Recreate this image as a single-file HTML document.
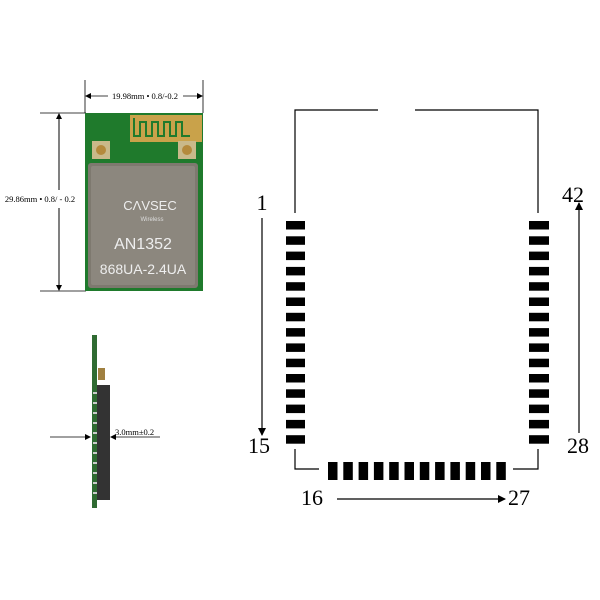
<!DOCTYPE html>
<html><head><style>
html,body{margin:0;padding:0;background:#fff;}
body{width:600px;height:600px;position:relative;overflow:hidden;}
</style></head><body>
<svg width="600" height="600" xmlns="http://www.w3.org/2000/svg" style="position:absolute;left:0;top:0">
<defs>
<marker id="ah" markerWidth="8" markerHeight="8" refX="7" refY="4" orient="auto" markerUnits="userSpaceOnUse">
<path d="M0,0 L8,4 L0,8 z" fill="#000"/></marker>
<marker id="sa" markerWidth="6" markerHeight="6" refX="5" refY="3" orient="auto" markerUnits="userSpaceOnUse">
<path d="M0,0 L6,3 L0,6 z" fill="#000"/></marker>
</defs>
<line x1="85" y1="80" x2="85" y2="113" stroke="#000" stroke-width="0.8"/>
<line x1="203" y1="80" x2="203" y2="113" stroke="#000" stroke-width="0.8"/>
<line x1="108" y1="96" x2="86" y2="96" stroke="#000" stroke-width="0.8" marker-end="url(#sa)"/>
<line x1="183" y1="96" x2="202" y2="96" stroke="#000" stroke-width="0.8" marker-end="url(#sa)"/>
<text x="145" y="99" font-family="Liberation Serif" font-size="8.5" text-anchor="middle">19.98mm • 0.8/-0.2</text>
<line x1="40" y1="113" x2="86" y2="113" stroke="#000" stroke-width="0.8"/>
<line x1="40" y1="291" x2="86" y2="291" stroke="#000" stroke-width="0.8"/>
<line x1="59" y1="190" x2="59" y2="114" stroke="#000" stroke-width="1" marker-end="url(#sa)"/>
<line x1="59" y1="208" x2="59" y2="290" stroke="#000" stroke-width="1" marker-end="url(#sa)"/>
<text x="40" y="202" font-family="Liberation Serif" font-size="8.5" text-anchor="middle">29.86mm • 0.8/ - 0.2</text>
<rect x="85" y="113" width="118" height="178" fill="#1f7a2c"/>
<rect x="130" y="115" width="72" height="27" fill="#c9a24a"/>
<path d="M134,118 v18 h6 v-14 h6 v14 h6 v-14 h6 v14 h6 v-14 h6 v14 h6 v-14 h6 v14 h8" stroke="#1f7a2c" stroke-width="2" fill="none"/>
<rect x="92" y="141" width="18" height="18" fill="#c9b98a"/><circle cx="101" cy="150" r="5" fill="#b48a3c"/>
<rect x="178" y="141" width="18" height="18" fill="#c9b98a"/><circle cx="187" cy="150" r="5" fill="#b48a3c"/>
<rect x="88" y="163" width="110" height="125" rx="3" fill="#7e796f"/>
<rect x="91" y="166" width="104" height="119" rx="2" fill="#8c877e"/>
<text x="150" y="210" font-family="Liberation Sans" font-size="13" fill="#eee" text-anchor="middle">CΛVSEC</text>
<text x="152" y="221" font-family="Liberation Sans" font-size="6" fill="#ddd" text-anchor="middle">Wireless</text>
<text x="143" y="249" font-family="Liberation Sans" font-size="16" fill="#eee" text-anchor="middle">AN1352</text>
<text x="143" y="274" font-family="Liberation Sans" font-size="14" fill="#eee" text-anchor="middle">868UA-2.4UA</text>
<rect x="92" y="335" width="5" height="173" fill="#2f6b32"/>
<rect x="97" y="385" width="13" height="115" fill="#333"/>
<rect x="98" y="368" width="7" height="12" fill="#a08040"/>
<g fill="#ccc">
<rect x="93" y="392" width="4" height="2"/><rect x="93" y="402" width="4" height="2"/><rect x="93" y="412" width="4" height="2"/><rect x="93" y="422" width="4" height="2"/><rect x="93" y="432" width="4" height="2"/><rect x="93" y="442" width="4" height="2"/><rect x="93" y="452" width="4" height="2"/><rect x="93" y="462" width="4" height="2"/><rect x="93" y="472" width="4" height="2"/><rect x="93" y="482" width="4" height="2"/><rect x="93" y="492" width="4" height="2"/>
</g>
<line x1="50" y1="437" x2="90" y2="437" stroke="#000" stroke-width="0.8" marker-end="url(#sa)"/>
<line x1="160" y1="437" x2="111" y2="437" stroke="#000" stroke-width="0.8" marker-end="url(#sa)"/>
<text x="115" y="435" font-family="Liberation Serif" font-size="8.5">3.0mm±0.2</text>
<g stroke="#000" stroke-width="1.2" fill="none">
<path d="M295,213 V110 H378"/>
<path d="M415,110 H538 V213"/>
<path d="M295,449 V469 H319"/>
<path d="M513,469 H538 V449"/>
</g>
<g fill="#000">
<rect x="286" y="221" width="19" height="8.5"/><rect x="286" y="236.3" width="19" height="8.5"/><rect x="286" y="251.6" width="19" height="8.5"/><rect x="286" y="266.9" width="19" height="8.5"/><rect x="286" y="282.2" width="19" height="8.5"/><rect x="286" y="297.5" width="19" height="8.5"/><rect x="286" y="312.8" width="19" height="8.5"/><rect x="286" y="328.1" width="19" height="8.5"/><rect x="286" y="343.4" width="19" height="8.5"/><rect x="286" y="358.7" width="19" height="8.5"/><rect x="286" y="374" width="19" height="8.5"/><rect x="286" y="389.3" width="19" height="8.5"/><rect x="286" y="404.6" width="19" height="8.5"/><rect x="286" y="419.9" width="19" height="8.5"/><rect x="286" y="435.2" width="19" height="8.5"/>
<rect x="529" y="221" width="20" height="8.5"/><rect x="529" y="236.3" width="20" height="8.5"/><rect x="529" y="251.6" width="20" height="8.5"/><rect x="529" y="266.9" width="20" height="8.5"/><rect x="529" y="282.2" width="20" height="8.5"/><rect x="529" y="297.5" width="20" height="8.5"/><rect x="529" y="312.8" width="20" height="8.5"/><rect x="529" y="328.1" width="20" height="8.5"/><rect x="529" y="343.4" width="20" height="8.5"/><rect x="529" y="358.7" width="20" height="8.5"/><rect x="529" y="374" width="20" height="8.5"/><rect x="529" y="389.3" width="20" height="8.5"/><rect x="529" y="404.6" width="20" height="8.5"/><rect x="529" y="419.9" width="20" height="8.5"/><rect x="529" y="435.2" width="20" height="8.5"/>
<rect x="328" y="462" width="9.5" height="18"/><rect x="343.3" y="462" width="9.5" height="18"/><rect x="358.6" y="462" width="9.5" height="18"/><rect x="373.9" y="462" width="9.5" height="18"/><rect x="389.2" y="462" width="9.5" height="18"/><rect x="404.5" y="462" width="9.5" height="18"/><rect x="419.8" y="462" width="9.5" height="18"/><rect x="435.1" y="462" width="9.5" height="18"/><rect x="450.4" y="462" width="9.5" height="18"/><rect x="465.7" y="462" width="9.5" height="18"/><rect x="481" y="462" width="9.5" height="18"/><rect x="496.3" y="462" width="9.5" height="18"/>
</g>
<line x1="262" y1="218" x2="262" y2="435" stroke="#000" stroke-width="1.2" marker-end="url(#ah)"/>
<line x1="579" y1="433" x2="579" y2="203" stroke="#000" stroke-width="1.2" marker-end="url(#ah)"/>
<line x1="337" y1="499" x2="505" y2="499" stroke="#000" stroke-width="1.2" marker-end="url(#ah)"/>
<g font-family="Liberation Serif" font-size="22" fill="#000" text-anchor="middle">
<text x="262" y="210">1</text>
<text x="259" y="453">15</text>
<text x="573" y="202">42</text>
<text x="578" y="453">28</text>
<text x="312" y="505">16</text>
<text x="519" y="505">27</text>
</g>
</svg>
</body></html>
